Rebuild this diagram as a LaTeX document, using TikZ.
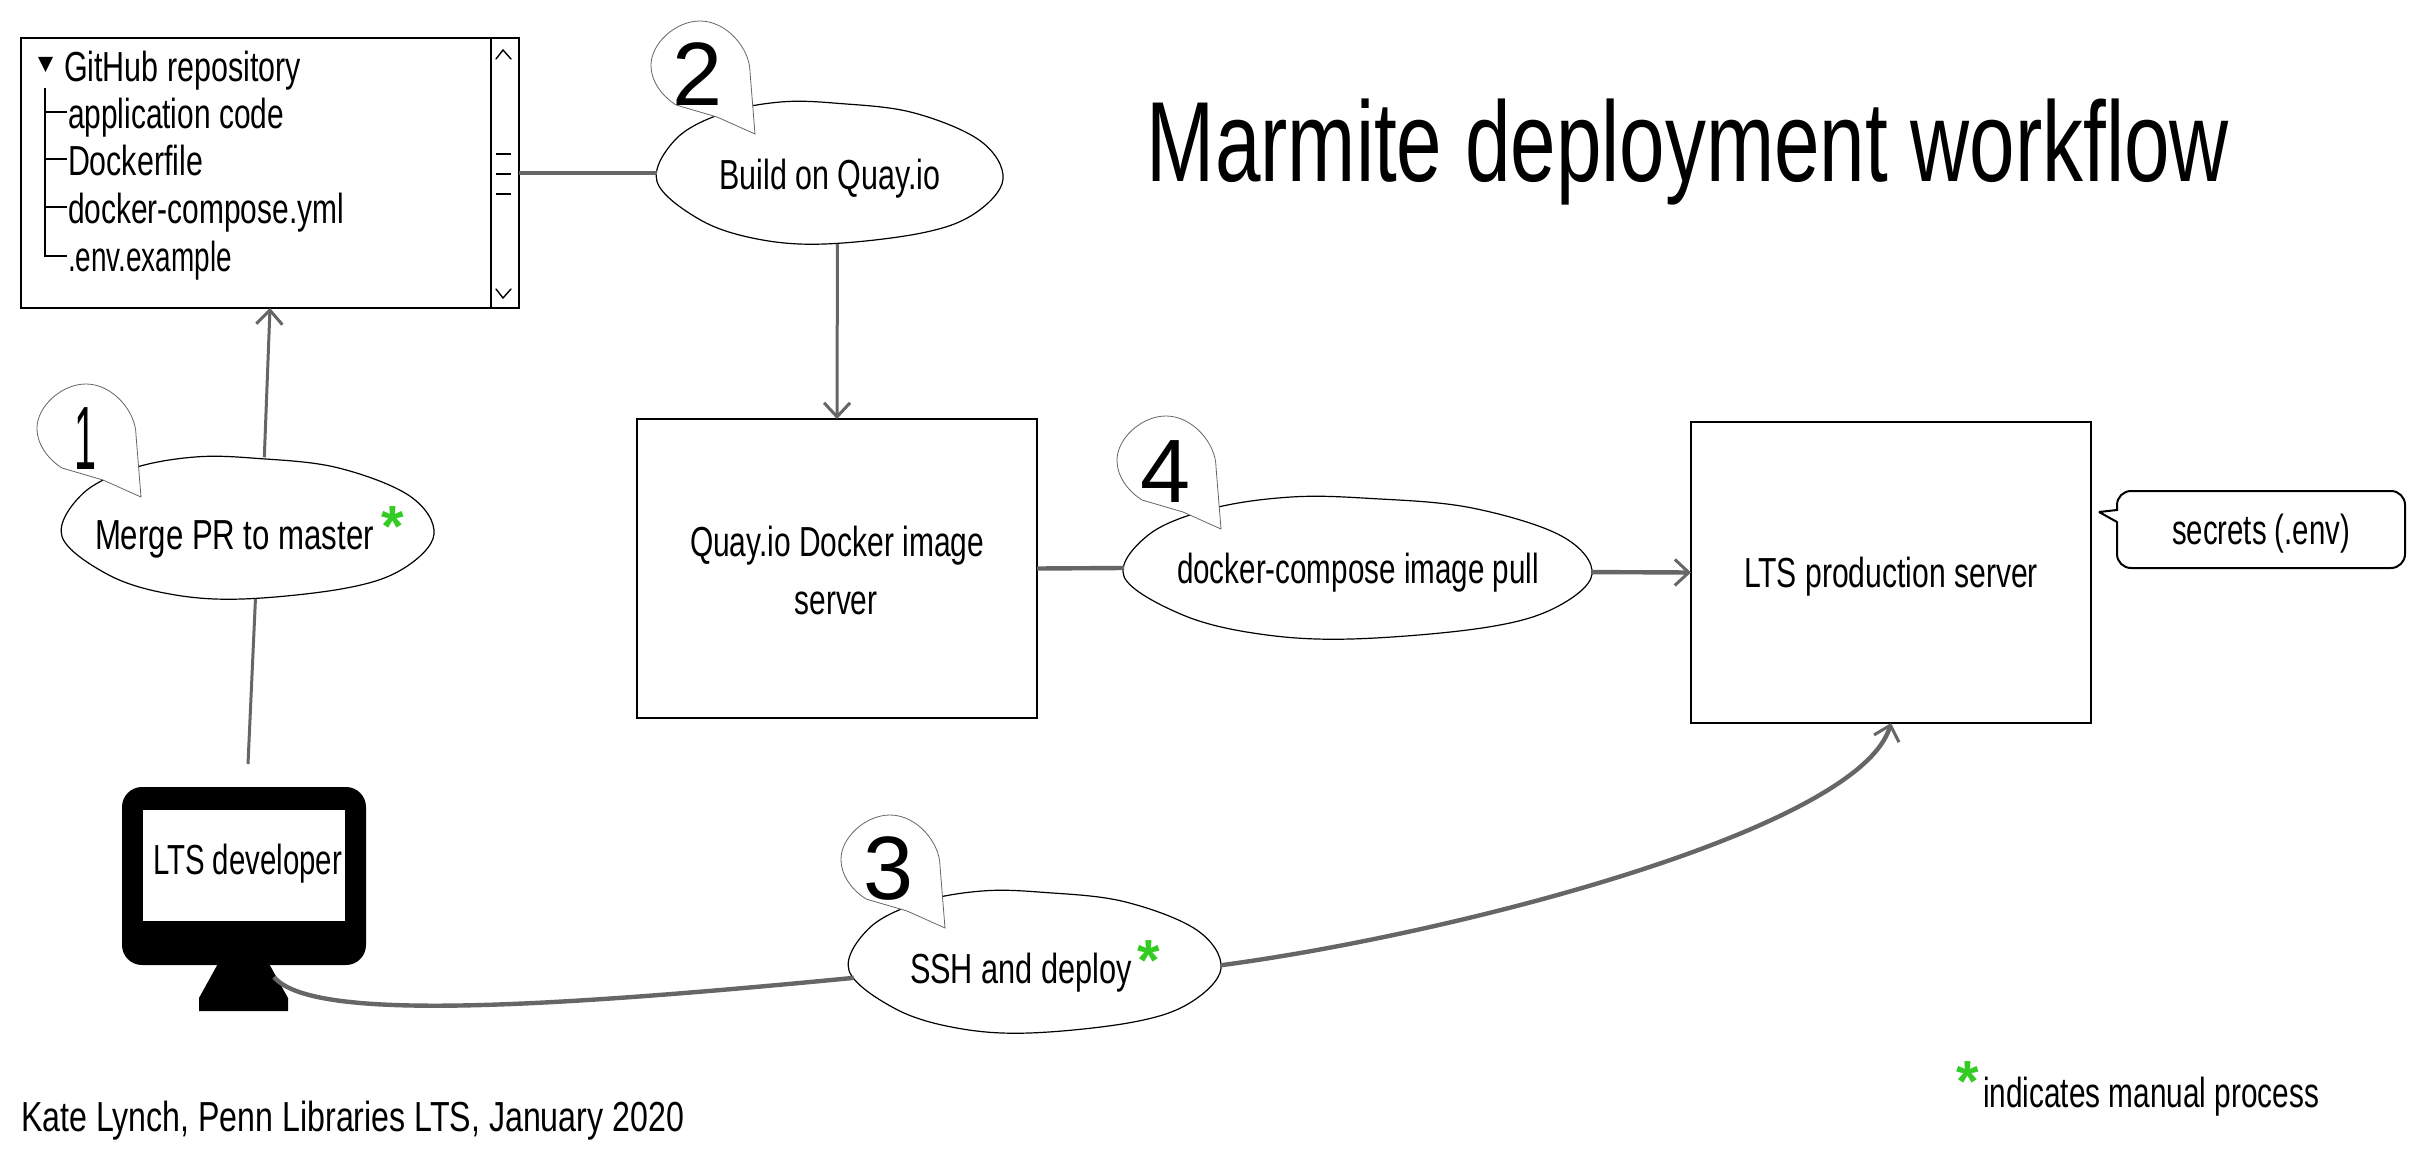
\documentclass[tikz,border=0pt]{standalone}
\usepackage{graphicx}
\usepackage{fontspec}
\setmainfont{Liberation Sans}
\usetikzlibrary{arrows.meta,shapes.geometric}
\newcommand\tw[2]{\resizebox{\dimexpr #1pt/2\relax}{\height}{#2}}
% text inside a shape: dx(px) dy(px) width(px) text; zero size, baseline dy below the centre
\newcommand\bt[4]{\raisebox{\dimexpr -#2pt/2\relax}[0pt][0pt]{\makebox[0pt][c]{\kern#1pt\tw{#3}{#4}}}}
\definecolor{conn}{HTML}{666666}
\definecolor{star}{HTML}{33CC22}
\tikzset{
  hand/.style={font=\fontsize{21pt}{21pt}\selectfont},
  lbl/.style={hand,inner sep=0pt,outer sep=0pt,anchor=base},
  lblw/.style={hand,inner sep=0pt,outer sep=0pt,anchor=base west},
  digit/.style={font=\fontsize{45pt}{45pt}\selectfont,inner sep=0pt,outer sep=0pt,anchor=base},
  asterisk/.style={font=\fontsize{29pt}{29pt}\selectfont\bfseries,text=star,inner sep=0pt,outer sep=0pt},
  titletext/.style={font=\fontsize{57pt}{57pt}\selectfont,inner sep=0pt,outer sep=0pt,anchor=base},
  blobnode/.style={ellipse,inner sep=0pt,outer sep=0pt,hand},
  blobline/.style={draw=black,fill=white,line width=.6pt},
  boxnode/.style={rectangle,draw=black,fill=white,inner sep=0pt,outer sep=0pt,line width=1.3pt,hand},
  bubble/.style={draw=black!60,fill=white,line width=.4pt},
  thin line/.style={draw=black,line width=.7pt},
  conline/.style={draw=conn,line width=1.5pt},
  conarrow/.style={conline,-{Straight Barb[length=7pt,width=13pt,line width=1.5pt]}},
}
% name cx cy rx ry dx dy w text
\newcommand\blob[9]{%
  \draw[blobline,shift={(#2,#3)},xscale=#4,yscale=#5]
    plot[smooth cycle,tension=.6] coordinates {(-.285,-1)(.05,-.98)(.48,-.85)(.87,-.45)(1,.09)(.83,.58)(.52,.85)(-.03,1)(-.42,.93)(-.75,.66)(-1,.12)(-.89,-.48)(-.62,-.84)};
  \node[blobnode,minimum width=#4pt,minimum height=#5pt] (#1) at (#2,#3) {\bt{#6}{#7}{#8}{#9}};%
}
% bubble with its tip at x,y
\newcommand\tipbubble[2]{%
  \draw[bubble,shift={(#1,#2)}] (0,0) -- (-5,-62) .. controls (-5,-85) and (-28,-113) .. (-55,-113)
    .. controls (-80,-113) and (-104,-90) .. (-104,-69)
    .. controls (-104,-50) and (-90,-36) .. (-79,-29) -- (-38,-17) -- cycle;%
}
\begin{document}
\begin{tikzpicture}[x=.5pt,y=-.5pt]
\useasboundingbox (0,0) rectangle (2424,1160);
\fill[white] (0,0) rectangle (2424,1160);

% title
\node[titletext] (title) at (1688,182) {\tw{1082}{Marmite deployment workflow}};

% GitHub window
\node[boxnode,minimum width=249pt,minimum height=135pt] (github) at (270,173) {};
\draw[thin line] (491,39) -- (491,308);
\draw[thin line,line cap=round] (496,59) -- (503,50) -- (511,59);
\draw[thin line,line cap=round] (496,289) -- (503,298) -- (511,289);
\foreach \gy in {154,174,194} \draw[black,line width=1pt] (496,\gy) -- (511,\gy);
\fill[black] (38,57) -- (53,57) -- (45.5,72) -- cycle;
\draw[thin line] (45,88) -- (45,256) -- (67,256);
\draw[thin line] (45,112) -- (67,112) (45,159) -- (67,159) (45,207) -- (67,207);
\node[lblw] (g0) at (64,82)  {\tw{237}{GitHub repository}};
\node[lblw] (g1) at (68,129) {\tw{216}{application code}};
\node[lblw] (g2) at (68,176) {\tw{135}{Dockerfile}};
\node[lblw] (g3) at (68,224) {\tw{276}{docker-compose.yml}};
\node[lblw] (g4) at (68,272) {\tw{164}{.env.example}};

% process ellipses
\blob{merge}{248}{528}{186}{71}{-13.5}{21}{279}{Merge PR to master}
\blob{build}{830}{173}{173}{71}{0}{17}{221}{Build on Quay.io}
\blob{ssh}{1035}{962}{186}{71}{-14}{21}{222}{SSH and deploy}
\blob{docker}{1358}{568}{234}{71}{0}{15}{362}{docker-compose image pull}

% callouts with numbers
\tipbubble{141}{497}
\tipbubble{755}{134}
\tipbubble{945}{928}
\tipbubble{1221}{529}
\node[digit] (n1) at (85,470) {\resizebox{11pt}{\height}{1}};
\node[digit] (n2) at (698,106) {2};
\node[digit] (n3) at (889,899) {3};
\node[digit] (n4) at (1166,502) {4};

% boxes
\node[boxnode,minimum width=200pt,minimum height=149.5pt] (quay) at (837,568.5) {};
\node[lbl] (quay1) at (837,556) {\tw{294}{Quay.io Docker image}};
\node[lbl] (quay2) at (836,614) {\tw{83}{server}};
\node[boxnode,line width=1pt,minimum width=200pt,minimum height=150.5pt] (lts) at (1891,572.5) {\bt{0}{15}{294}{LTS production server}};

% secrets callout
\node[boxnode,line width=1pt,rounded corners=7pt,minimum width=144pt,minimum height=38.5pt] (secrets) at (2261,529.5) {\bt{0}{15}{178}{secrets (.env)}};
\path[fill=white] (2119,511) -- (2099,512) -- (2119,522) -- cycle;
\draw[black,line width=1pt,line join=bevel] (2117,510) -- (2099,512) -- (2117,522);

% monitor
\node[rectangle,fill=black,rounded corners=10pt,inner sep=0pt,outer sep=0pt,minimum width=122pt,minimum height=89pt] (monitor) at (244,876) {};
\fill[black] (220,960) -- (267,960) -- (288,998) -- (288,1011) -- (199,1011) -- (199,998) -- cycle;
\node[rectangle,fill=white,inner sep=0pt,outer sep=0pt,hand,minimum width=101pt,minimum height=55.5pt] (screen) at (244,865) {\bt{3.5}{9}{189}{LTS developer}};

% free ends
\coordinate (devtop) at (248,764);
\coordinate (stand) at (274,977);

% connectors
\draw[conarrow] (merge.77) -- (github.south);
\draw[conline] (merge.-84) -- (devtop);
\draw[conline,line width=2.2pt] (github.east) -- (build.west);
\draw[conarrow] (build.-84) -- (quay.north);
\draw[conline,line width=2.2pt] (quay.east) -- (docker.west);
\draw[conarrow,line width=2.2pt] (docker.-1.5) -- (lts.west);
\draw[conline,line width=2.2pt] (stand) .. controls (310,1020) and (520,1010) .. (ssh.185.7);
\draw[conarrow,line width=2.2pt] (ssh.-1.2) .. controls (1450,935) and (1860,830) .. (lts.south);

% asterisks and notes
\node[asterisk] (s1) at (393,527) {*};
\node[asterisk] (s2) at (1149,961) {*};
\node[asterisk] (s3) at (1968,1082) {*};
\node[lblw] (note) at (1983,1107) {\tw{336}{indicates manual process}};
\node[lblw] (credit) at (21,1131) {\tw{663}{Kate Lynch, Penn Libraries LTS, January 2020}};
\end{tikzpicture}
\end{document}
